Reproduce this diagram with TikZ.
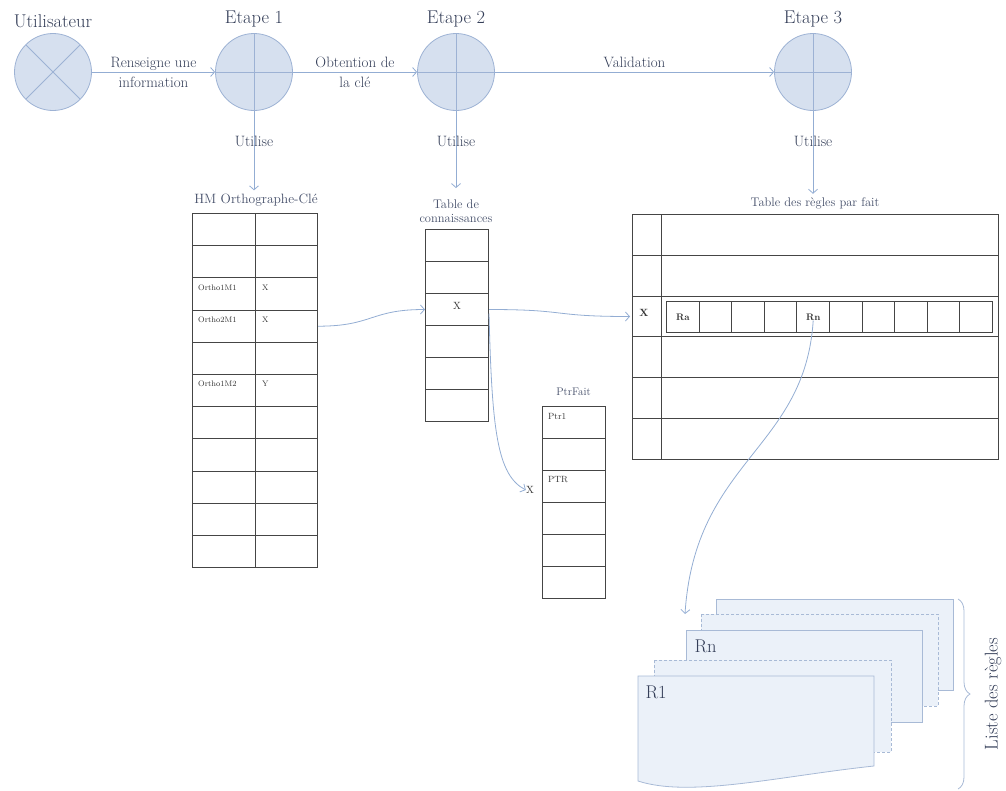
\documentclass[tikz,border=0pt]{standalone}
\usepackage{tikz}
\usetikzlibrary{arrows.meta, positioning, decorations.pathreplacing}

\definecolor{circfill}{HTML}{D6E0EF}
\definecolor{circline}{HTML}{9DB2D4}
\definecolor{linkblue}{HTML}{93ADD3}
\definecolor{labtext}{HTML}{343E58}
\definecolor{tabtext}{HTML}{434D68}
\definecolor{tabline}{HTML}{454545}
\definecolor{pagefill}{HTML}{EBF1F9}
\definecolor{pageline}{HTML}{A8BAD6}

\begin{document}
\begin{tikzpicture}[
        x=1pt, y=-1pt,
        actor/.style = {circle, draw=circline, fill=circfill, minimum size=77pt, inner sep=0pt, line width=0.8pt},
        cross/.style = {path picture={\draw[circline, line width=0.8pt] (path picture bounding box.north) -- (path picture bounding box.south) (path picture bounding box.west) -- (path picture bounding box.east);}},
        saltire/.style = {path picture={\draw[circline, line width=0.8pt] (path picture bounding box.north west) -- (path picture bounding box.south east) (path picture bounding box.north east) -- (path picture bounding box.south west);}},
        title/.style = {text=labtext, font=\fontsize{18.5}{21}\selectfont},
        link/.style = {-{Straight Barb[length=4pt, width=9pt]}, draw=linkblue, line width=0.8pt},
        label/.style = {text=labtext, font=\fontsize{15}{20}\selectfont, align=center},
        tabtitle/.style = {text=tabtext, font=\fontsize{12.5}{14}\selectfont, align=center},
        cell/.style = {draw=tabline, line width=1pt, anchor=north west, inner sep=0pt},
        celltext/.style = {text=black!80, font=\fontsize{8}{9}\selectfont, anchor=west, inner sep=0pt},
        page/.style = {fill=pagefill, draw=pageline, line width=0.8pt},
        dashpage/.style = {page, dash pattern=on 3pt off 2pt}
    ]
    \useasboundingbox (0,0) rectangle (1006,790);

    % acteurs et etapes
    \node[actor, saltire] (user) at (53,72) {};
    \node[actor, cross] (e1) at (254,72) {};
    \node[actor, cross] (e2) at (456,72) {};
    \node[actor, cross] (e3) at (813,72) {};
    \node[title, above=2pt of user] (tuser) {Utilisateur};
    \node[title, above=2pt of e1] (te1) {Etape 1};
    \node[title, above=2pt of e2] (te2) {Etape 2};
    \node[title, above=2pt of e3] (te3) {Etape 3};

    \draw[link] (user) -- node[label] (lrens) {Renseigne une\\information} (e1);
    \draw[link] (e1) -- node[label] (lobt) {Obtention de\\la cl\'e} (e2);
    \draw[link] (e2) -- node[label, above=1pt] (lval) {Validation} (e3);

    % titres des tables
    \node[tabtitle, font=\fontsize{13.5}{15}\selectfont] (hmtitle) at (256,200) {HM Orthographe-Cl\'e};
    \node[tabtitle] (conntitle) at (456,211) {Table de\\connaissances};
    \node[tabtitle] (rutitle) at (815,203) {Table des r\`egles par fait};
    \node[tabtitle, font=\fontsize{11}{12}\selectfont] (ptrtitle) at (573.5,392) {PtrFait};

    \draw[link] (e1.south) -- node[label, pos=0.38] (lu1) {Utilise} (e1.south |- hmtitle.north);
    \draw[link] (e2.south) -- node[label, pos=0.4] (lu2) {Utilise} ([yshift=8pt]e2.south |- conntitle.north);
    \draw[link] (e3.south) -- node[label, pos=0.37] (lu3) {Utilise} (e3.south |- rutitle.north);

    % HM Orthographe-Cle
    \foreach \r in {1,...,11} {
        \node[cell, minimum width=63pt, minimum height=32.2pt] (hmA\r) at (192,{213+32.2*(\r-1)}) {};
        \node[cell, minimum width=62pt, minimum height=32.2pt] (hmB\r) at (255,{213+32.2*(\r-1)}) {};
    }
    \node[celltext] (o11) at ([xshift=6pt, yshift=-10pt]hmA3.north west) {Ortho1M1};
    \node[celltext] (o21) at ([xshift=6pt, yshift=-10pt]hmA4.north west) {Ortho2M1};
    \node[celltext] (o12) at ([xshift=6pt, yshift=-10pt]hmA6.north west) {Ortho1M2};
    \node[celltext] (k1) at ([xshift=7pt, yshift=-10pt]hmB3.north west) {X};
    \node[celltext] (k2) at ([xshift=7pt, yshift=-10pt]hmB4.north west) {X};
    \node[celltext] (k3) at ([xshift=7pt, yshift=-10pt]hmB6.north west) {Y};

    % Table de connaissances
    \foreach \r in {1,...,6}
        \node[cell, minimum width=63pt, minimum height=32pt] (conn\r) at (425,{229+32*(\r-1)}) {};
    \node[celltext, anchor=center, font=\fontsize{10.5}{12}\selectfont] (cx) at ([yshift=4pt]conn3.center) {X};

    % PtrFait
    \foreach \r in {1,...,6}
        \node[cell, minimum width=63pt, minimum height=32pt] (ptr\r) at (542,{406+32*(\r-1)}) {};
    \node[celltext, font=\fontsize{9}{10}\selectfont] (p1) at ([xshift=6pt, yshift=-10pt]ptr1.north west) {Ptr1};
    \node[celltext, font=\fontsize{9}{10}\selectfont] (pp) at ([xshift=6pt, yshift=-10pt]ptr3.north west) {PTR};
    \node[celltext, anchor=center, font=\fontsize{10.5}{12}\selectfont] (ptrx) at (530,490) {X};

    % Table des regles par fait
    \foreach \r in {1,...,6} {
        \node[cell, minimum width=29pt, minimum height=40.8pt] (ruA\r) at (632,{214+40.8*(\r-1)}) {};
        \node[cell, minimum width=337pt, minimum height=40.8pt] (ruB\r) at (661,{214+40.8*(\r-1)}) {};
    }
    \node[celltext, anchor=center, font=\fontsize{10.5}{12}\selectfont\bfseries] (rx) at ([xshift=-3pt, yshift=4pt]ruA3.center) {X};
    \foreach \c in {1,...,10}
        \node[cell, minimum width=32.6pt, minimum height=31pt] (st\c) at ({666+32.6*(\c-1)},301) {};
    \node[celltext, anchor=center, font=\fontsize{9.5}{10}\selectfont\bfseries] (ra) at (st1) {Ra};
    \node[celltext, anchor=center, font=\fontsize{9.5}{10}\selectfont\bfseries] (rn) at (st5) {Rn};

    % liste des regles
    \draw[page] (716,599) rectangle (953,690);
    \draw[dashpage] (701,614) rectangle (938,706);
    \draw[page] (686,630) rectangle (922,722);
    \draw[dashpage] (654,660) rectangle (891,752);
    \draw[page] (638,676) -- (874,676) -- (874,766) .. controls (780,776) and (690,798) .. (638,781) -- cycle;
    \node[title, anchor=west] (rnpage) at (691,646) {Rn};
    \node[title, anchor=west] (r1page) at (642,692) {R1};
    \coordinate (rnin) at (685,614);
    \draw[decorate, decoration={brace, amplitude=12pt}, draw=pageline, line width=0.8pt] (958,599) -- (958,789);
    \node[title, rotate=90] (liste) at (993,694) {Liste des r\`egles};

    % liens entre tables
    \draw[link] (hmB4.east) .. controls +(55,0) and +(-55,0) .. (conn3.west);
    \draw[link] (conn3.east) .. controls +(80,0) and +(-80,0) .. ([xshift=-2pt]ruA3.west);
    \draw[link] ([yshift=-4pt]conn3.east) .. controls (492,430) and (497,475) .. (ptrx.west);
    \draw[link] (rn.south) .. controls (805,450) and (695,460) .. (rnin);
\end{tikzpicture}
\end{document}
